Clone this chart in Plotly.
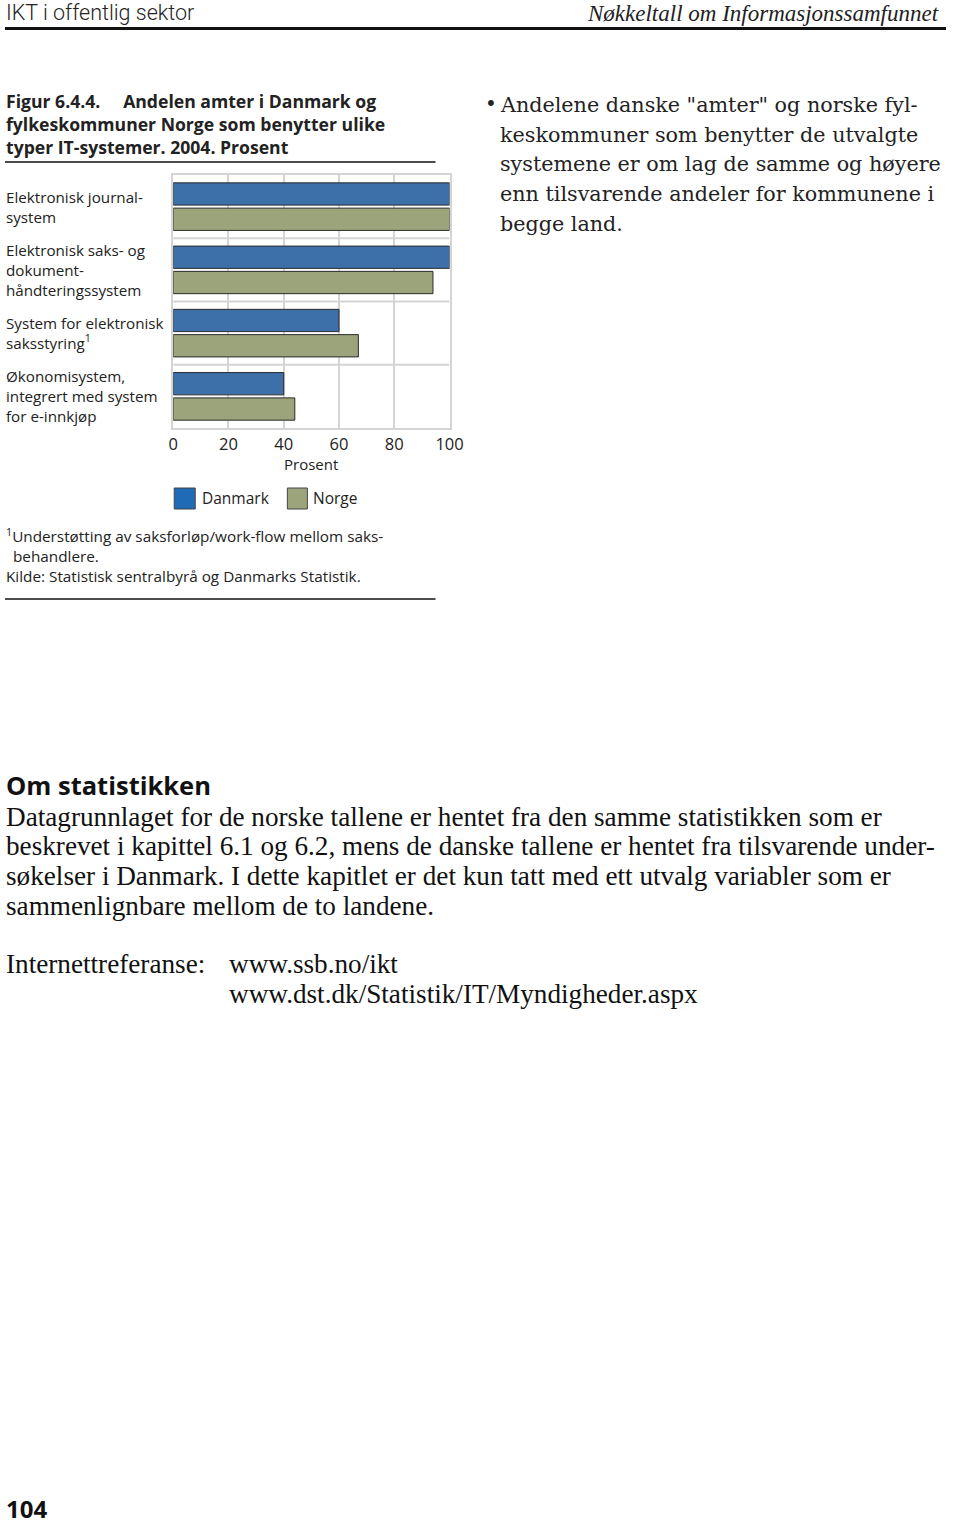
import plotly.graph_objects as go

W, H = 960, 1526

categories = [
    "Elektronisk journal-<br>system",
    "Elektronisk saks- og<br>dokument-<br>håndteringssystem",
    "System for elektronisk<br>saksstyring<sup>1</sup>",
    "Økonomisystem,<br>integrert med system<br>for e-innkjøp",
]
danmark = [100, 100, 60, 40]
norge = [100, 94, 67, 44]
series_names = ["Danmark", "Norge"]
x_ticks = [0, 20, 40, 60, 80, 100]

BLUE_BAR = "#3d6fa8"
BLUE_LEG = "#1f6bb5"
OLIVE = "#9ba47a"
GRID = "#d4d4d4"
TXT = "#222222"
SANS = "Open Sans"
SX, OX = 0.979, 5.0   # horizontal mapping of the photographed page


def X(ref_px):
    return (ref_px - OX) / SX


def TX(ref_px):
    return max(0.0, X(ref_px) - 1)


def xp(px):
    return px / W


def yp(py):
    return 1 - py / H


fig = go.Figure()
fig.add_trace(go.Bar(y=categories, x=danmark, name=series_names[0], orientation="h",
                     marker=dict(color=BLUE_BAR, line=dict(color="#2a2a2a", width=1)),
                     showlegend=False))
fig.add_trace(go.Bar(y=categories, x=norge, name=series_names[1], orientation="h",
                     marker=dict(color=OLIVE, line=dict(color="#2a2a2a", width=1)),
                     showlegend=False))

plot_l, plot_r, plot_t, plot_b = X(173), X(449), 175, 428

fig.update_layout(
    width=W, height=H, autosize=False,
    margin=dict(l=0, r=0, t=0, b=0),
    paper_bgcolor="white", plot_bgcolor="white",
    barmode="group", bargap=0.2, bargroupgap=0.12,
    showlegend=False,
    font=dict(family=SANS, color=TXT),
    xaxis=dict(domain=[xp(plot_l), xp(plot_r)], range=[0, 100], tickvals=x_ticks,
               showgrid=True, gridcolor=GRID, gridwidth=2, zeroline=False,
               showline=True, linecolor=GRID, linewidth=2, mirror=True,
               ticks="", tickfont=dict(size=16.5, color=TXT, family=SANS), ticklabelstandoff=0),
    yaxis=dict(domain=[yp(plot_b), yp(plot_t)], range=[3.5, -0.5], type="category",
               categoryorder="array", categoryarray=categories,
               showgrid=False, zeroline=False, showticklabels=False,
               showline=True, linecolor=GRID, linewidth=2, mirror=True, ticks=""),
)

shapes = []
for i in range(len(categories) - 1):
    shapes.append(dict(type="line", xref="x", yref="y", x0=0, x1=100, y0=i + 0.5, y1=i + 0.5,
                       line=dict(color=GRID, width=2), layer="below"))
shapes.append(dict(type="line", xref="paper", yref="paper", x0=0, x1=1, y0=yp(28.5), y1=yp(28.5),
                   line=dict(color="#111", width=3)))
for yy in (162, 599):
    shapes.append(dict(type="line", xref="paper", yref="paper", x0=xp(X(5)), x1=xp(X(435)),
                       y0=yp(yy), y1=yp(yy), line=dict(color="#111", width=1.3)))
for x0, x1, col in ((174, 195, BLUE_LEG), (287, 307, OLIVE)):
    shapes.append(dict(type="rect", xref="paper", yref="paper", x0=xp(X(x0)), x1=xp(X(x1)),
                       y0=yp(509), y1=yp(488), fillcolor=col, line=dict(color="#444", width=1)))
fig.update_layout(shapes=shapes)

ann = []


def add(text, x, y, size, family=SANS, color=TXT, xanchor="left", yanchor="middle", align="left", **kw):
    ann.append(dict(text=text, x=xp(x), y=yp(y), xref="paper", yref="paper", showarrow=False,
                    xanchor=xanchor, yanchor=yanchor, align=align, borderpad=0,
                    font=dict(size=size, family=family, color=color, **kw)))


# header
add("IKT i offentlig sektor", TX(5), 12.5, 21.5, family="Roboto", weight=300)
add("<i>Nøkkeltall om Informasjonssamfunnet</i>", 954, 13, 23, family="Liberation Serif",
    xanchor="right", align="right")

# figure title
add("<b>Figur 6.4.4.&nbsp;&nbsp;&nbsp;&nbsp;&nbsp;Andelen amter i Danmark og<br>"
    "fylkeskommuner Norge som benytter ulike<br>typer IT-systemer. 2004. Prosent</b>",
    TX(5), 123.5, 17.6)

# category labels, anchored on the category axis
for c in categories:
    ann.append(dict(text=c, x=xp(TX(5)), y=c, xref="paper", yref="y", showarrow=False,
                    xanchor="left", yanchor="middle", align="left", borderpad=0,
                    font=dict(size=15.2, family=SANS, color=TXT)))

# axis title
add("Prosent", (plot_l + plot_r) / 2, 464, 15, xanchor="center", align="center")

# legend text
add(series_names[0], TX(202), 498, 15.5)
add(series_names[1], TX(313), 498, 15.5)

# footnotes
add("<sup>1</sup>Understøtting av saksforløp/work-flow mellom saks-", TX(5), 535.5, 15.3)
add("behandlere.", TX(13), 555.5, 15.3)
add("Kilde: Statistisk sentralbyrå og Danmarks Statistik.", TX(5), 575.5, 15.3)

# right bullet text
add("•", TX(484), 104, 20, family="DejaVu Serif")
right_lines = [
    'Andelene danske "amter" og norske fyl-',
    "keskommuner som benytter de utvalgte",
    "systemene er om lag de samme og høyere",
    "enn tilsvarende andeler for kommunene i",
    "begge land.",
]
for i, t in enumerate(right_lines):
    add(t, TX(499), 105 + i * 29.7, 20.7, family="DejaVu Serif")

# Om statistikken
add("<b>Om statistikken</b>", TX(5), 784.5, 25.5, family=SANS, color="#111", weight=800)
body_lines = [
    "Datagrunnlaget for de norske tallene er hentet fra den samme statistikken som er",
    "beskrevet i kapittel 6.1 og 6.2, mens de danske tallene er hentet fra tilsvarende under-",
    "søkelser i Danmark. I dette kapitlet er det kun tatt med ett utvalg variabler som er",
    "sammenlignbare mellom de to landene.",
]
for i, t in enumerate(body_lines):
    add(t, TX(5), 816.5 + i * 29.7, 27.2, family="Liberation Serif", color="#111")

add("Internettreferanse:", TX(5), 964, 27.2, family="Liberation Serif", color="#111")
add("www.ssb.no/ikt", TX(229), 964, 27.2, family="Liberation Serif", color="#111")
add("www.dst.dk/Statistik/IT/Myndigheder.aspx", TX(229), 994, 27.2, family="Liberation Serif", color="#111")

# page number
add("<b>104</b>", TX(5), 1508, 24, color="#111")

fig.update_layout(annotations=ann)
fig.write_html("out.html")
